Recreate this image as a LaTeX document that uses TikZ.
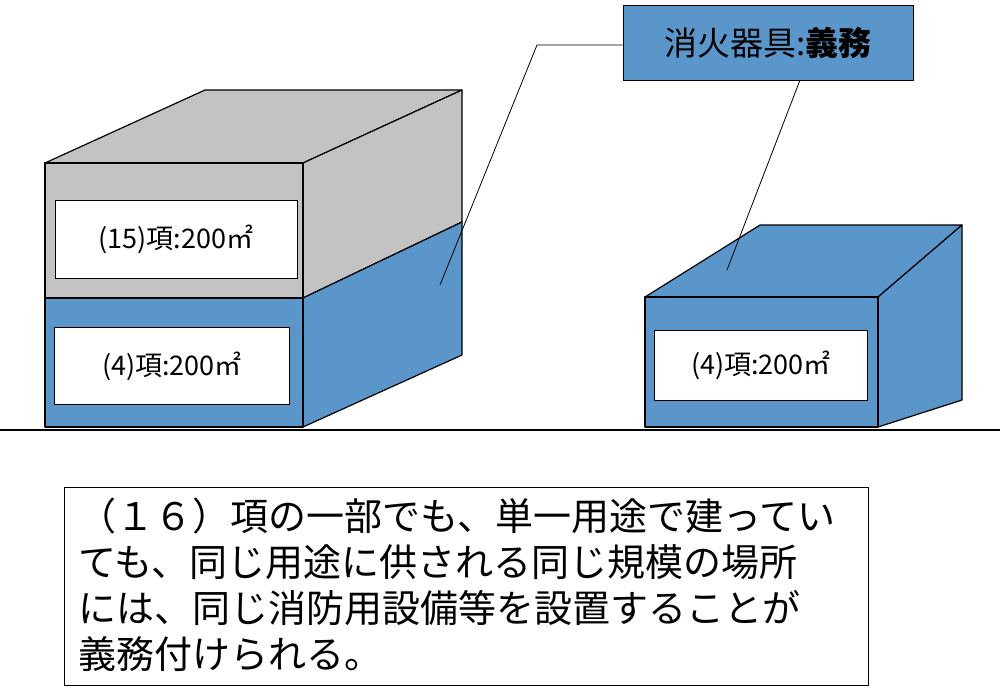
\documentclass[tikz,border=0pt]{standalone}
\usepackage{fontspec}
\newfontfamily\cjk{Noto Sans CJK JP}
\definecolor{bblue}{HTML}{5B96CB}
\definecolor{bgray}{HTML}{C3C3C3}
\tikzset{face/.style={draw=black,line width=1.2pt,line join=round},
lbl/.style={draw=black,fill=white,line width=0.8pt,font=\cjk\fontsize{27}{30}\selectfont},
lead/.style={draw=black,line width=0.8pt}}
\begin{document}
\begin{tikzpicture}[x=1pt,y=-1pt]
\useasboundingbox (0,0) rectangle (1000,693);
% left building
\path[face,fill=bgray] (45,163)--(303,163)--(462,90)--(205,90)--cycle;
\path[face,fill=bgray] (303,163)--(462,90)--(462,222)--(303,298)--cycle;
\path[face,fill=bblue] (303,298)--(462,222)--(462,355)--(303,427)--cycle;
\path[face,fill=bgray] (45,163) rectangle (303,298);
\path[face,fill=bblue] (45,298) rectangle (303,427);
\node[lbl,minimum width=242pt,minimum height=78pt] (l15) at (176,239) {(15)項:200㎡};
\node[lbl,minimum width=235pt,minimum height=77pt] (l4) at (172,366) {(4)項:200㎡};
% right building
\path[face,fill=bblue] (645,297)--(878,297)--(962,225)--(760,225)--cycle;
\path[face,fill=bblue] (878,297)--(962,225)--(962,400)--(878,427)--cycle;
\path[face,fill=bblue] (645,297) rectangle (878,427);
\node[lbl,minimum width=213pt,minimum height=70pt] (r4) at (761,365) {(4)項:200㎡};
% ground
\draw[line width=1.5pt] (0,430)--(1000,430);
% callout
\node[draw=black,line width=1pt,fill=bblue,minimum width=290pt,minimum height=75pt,font=\cjk\fontsize{33}{36}\selectfont] (call) at (768,43) {消火器具:{\bfseries 義務}};
\coordinate (c1) at (537,45);
\coordinate (t1) at (440,285);
\coordinate (t2) at (727,270);
\draw[lead] (call.west|-c1)--(c1)--(t1);
\draw[lead] (800,80)--(t2);
% text box
\node[draw=black,line width=1pt,minimum width=804pt,minimum height=198pt] (tb) at (466,586) {};
\node[anchor=north west,align=left,inner sep=0pt,font=\cjk\fontsize{38}{46}\selectfont] (tx) at (78,498) {（１６）項の一部でも、単一用途で建ってい\\ても、同じ用途に供される同じ規模の場所\\には、同じ消防用設備等を設置することが\\義務付けられる。};
\end{tikzpicture}
\end{document}
